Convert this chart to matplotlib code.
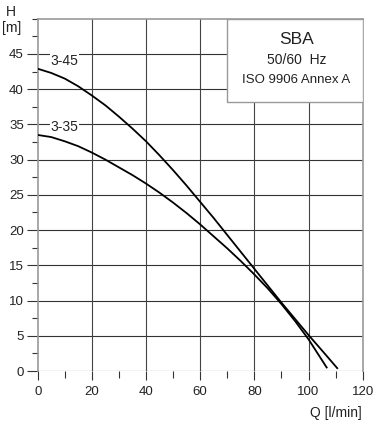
import matplotlib
matplotlib.use("Agg")
import matplotlib.pyplot as plt
from matplotlib.patches import Rectangle
from matplotlib.ticker import MultipleLocator

plt.rcParams['font.family'] = ['Liberation Sans', 'DejaVu Sans']

# Data
q_345 = [0, 5, 10, 15, 20, 25, 30, 35, 40, 45, 50, 55, 60, 65, 70, 75, 80, 85, 90, 95, 100, 105, 110.6]
h_345 = [42.9, 42.3, 41.5, 40.4, 39.1, 37.7, 36.1, 34.4, 32.6, 30.6, 28.5, 26.3, 24.0, 21.7,
         19.3, 16.9, 14.5, 12.1, 9.7, 7.4, 5.1, 2.9, 0.4]
q_335 = [0, 5, 10, 15, 20, 25, 30, 35, 40, 45, 50, 55, 60, 65, 70, 75, 80, 85, 90, 95, 100, 106.7]
h_335 = [33.5, 33.2, 32.6, 31.9, 31.0, 30.0, 28.9, 27.8, 26.6, 25.3, 23.9, 22.4, 20.8, 19.1,
         17.4, 15.6, 13.7, 11.7, 9.5, 7.1, 4.5, 0.5]
curve_labels = ["3-45", "3-35"]
x_ticks = [0, 20, 40, 60, 80, 100, 120]
y_ticks = [0, 5, 10, 15, 20, 25, 30, 35, 40, 45]

fig = plt.figure(figsize=(3.83, 4.34), dpi=100)
ax = fig.add_axes([37.7/383, 1-371/434, 325/383, (371-18.7)/434])
ax.set_xlim(0, 120)
ax.set_ylim(0, 50)

for s in ['left', 'right', 'top']:
    ax.spines[s].set_color('#999999')
    ax.spines[s].set_linewidth(1.2)
ax.spines['bottom'].set_visible(False)

ax.set_xticks(x_ticks)
ax.set_yticks(y_ticks)
ax.xaxis.set_minor_locator(MultipleLocator(10))
ax.yaxis.set_minor_locator(MultipleLocator(2.5))
ax.tick_params(axis='x', which='major', direction='out', length=6.5, width=0.8,
               color='#333333', labelsize=9.5, pad=4, labelcolor='#222222')
ax.tick_params(axis='x', which='minor', direction='out', length=5, width=0.8, color='#333333')
ax.tick_params(axis='y', which='major', direction='out', length=8, width=0.8,
               color='#333333', labelsize=9.5, pad=2, labelcolor='#222222')
ax.tick_params(axis='y', which='minor', direction='out', length=4.3, width=0.8, color='#333333')

for y in y_ticks:
    ax.axhline(y, color='#333333', lw=0.8, zorder=1)
for x in x_ticks[1:-1]:
    ax.axvline(x, color='#444444', lw=0.8, zorder=1)

ax.plot(q_345, h_345, color='black', lw=1.3, zorder=3, solid_joinstyle='round')
ax.plot(q_335, h_335, color='black', lw=1.3, zorder=3, solid_joinstyle='round')

ax.text(10, 44.0, curve_labels[0], fontsize=10, ha='center', va='center', color='#222222',
        bbox=dict(facecolor='white', edgecolor='none', pad=0.5), zorder=4)
ax.text(10, 34.7, curve_labels[1], fontsize=10, ha='center', va='center', color='#222222',
        bbox=dict(facecolor='white', edgecolor='none', pad=0.5), zorder=4)

ax.add_patch(Rectangle((70, 38.2), 50, 11.8, facecolor='white', edgecolor='#999999',
                       lw=1.0, zorder=5))
ax.text(95.5, 47.1, "SBA", fontsize=12.5, ha='center', va='center', color='#222222', zorder=6)
ax.text(95.5, 44.2, "50/60  Hz", fontsize=10, ha='center', va='center', color='#222222', zorder=6)
ax.text(95.5, 41.3, "ISO 9906 Annex A", fontsize=9.5, ha='center', va='center', color='#222222', zorder=6)

fig.text(10.5/383, 1-12/434, "H", fontsize=10, ha='center', va='center', color='#222222')
fig.text(11.5/383, 1-28/434, "[m]", fontsize=10, ha='center', va='center', color='#222222')
fig.text(362/383, 1-413/434, "Q [l/min]", fontsize=10, ha='right', va='center', color='#222222')

fig.savefig("out.png", dpi=100)
